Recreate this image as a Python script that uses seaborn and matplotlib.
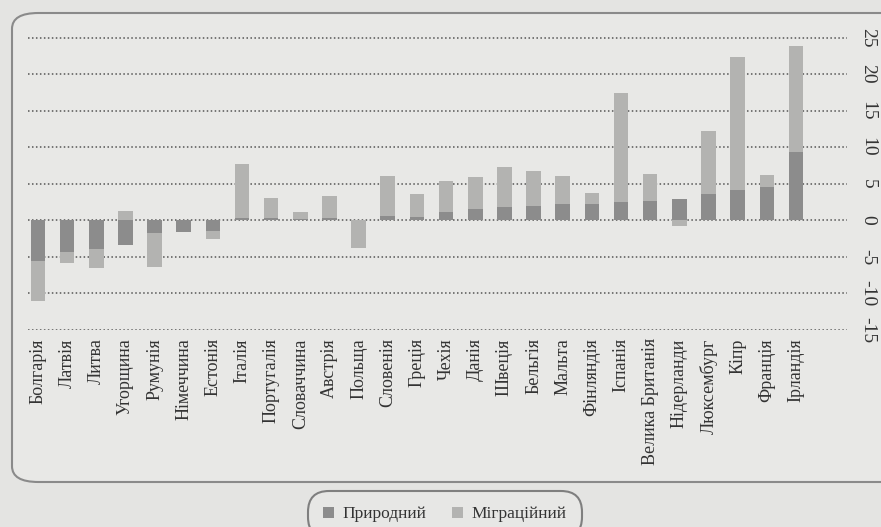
import numpy as np
import pandas as pd
import matplotlib
matplotlib.use("Agg")
import matplotlib.pyplot as plt
from matplotlib.patches import FancyBboxPatch, Patch
import seaborn as sns

# Natural and migration population change by country
countries = ["Болгарія", "Латвія", "Литва", "Угорщина", "Румунія", "Німеччина",
             "Естонія", "Італія", "Португалія", "Словаччина", "Австрія", "Польща",
             "Словенія", "Греція", "Чехія", "Данія", "Швеція", "Бельгія", "Мальта",
             "Фінляндія", "Іспанія", "Велика Британія", "Нідерланди", "Люксембург",
             "Кіпр", "Франція", "Ірландія"]
natural = [-5.5, -4.3, -3.9, -3.4, -1.7, -1.6, -1.4, 0.3, 0.3, 0.2, 0.3, 0.0,
           0.6, 0.5, 1.2, 1.5, 1.8, 2.0, 2.3, 2.3, 2.5, 2.7, 2.9, 3.6, 4.2, 4.5, 9.3]
migration = [-5.5, -1.5, -2.6, 1.3, -4.7, 0.0, -1.2, 7.4, 2.8, 1.0, 3.0, -3.8,
             5.5, 3.1, 4.2, 4.4, 5.5, 4.8, 3.8, 1.4, 14.9, 3.7, -0.8, 8.6, 18.2, 1.7, 14.6]
y_ticks = [-15, -10, -5, 0, 5, 10, 15, 20, 25]
legend_labels = ["Природний", "Міграційний"]

BG = "#e4e4e2"
DARK = "#8c8c8c"
LIGHT = "#b3b3b1"
TEXT = "#333333"

sns.set_style("white")
plt.rcParams["font.family"] = ["Liberation Serif", "DejaVu Serif"]
plt.rcParams["axes.unicode_minus"] = False

df = pd.DataFrame({"country": countries, "natural": natural, "migration": migration})
# migration is stacked on natural when both have the same sign, otherwise it starts at 0
nat = df["natural"].to_numpy()
mig = df["migration"].to_numpy()
df["light_top"] = np.where(np.sign(nat) == np.sign(mig), nat + mig, mig)

fig = plt.figure(figsize=(8.81, 5.27), dpi=100, facecolor=BG)
ax = fig.add_axes([28 / 881, 1 - 330 / 527, (847 - 28) / 881, (330 - 23) / 527])
ax.set_facecolor("none")

# rounded frame round the chart area (runs off the right edge, as in the scan)
frame = FancyBboxPatch((12 / 881, 1 - 482 / 527), 1.05, (482 - 13) / 527,
                       boxstyle="round,pad=0,rounding_size=0.03",
                       transform=fig.transFigure, facecolor="#e8e8e6",
                       edgecolor="#8a8a8a", linewidth=1.5, zorder=-5)
fig.patches.append(frame)

sns.barplot(data=df, x="country", y="light_top", color=LIGHT, width=0.5,
            saturation=1, linewidth=0, ax=ax, zorder=2)
sns.barplot(data=df, x="country", y="natural", color=DARK, width=0.5,
            saturation=1, linewidth=0, ax=ax, zorder=3)

ax.set_xlim(-0.34, 27.75)
ax.set_ylim(-15, 27)
ax.set_yticks(y_ticks)
ax.set_xlabel("")
ax.set_ylabel("")
ax.yaxis.tick_right()
ax.yaxis.grid(True, linestyle=(0, (1, 1.6)), color="#555555", linewidth=1.1)
ax.xaxis.grid(False)
ax.set_axisbelow(True)
for s in ax.spines.values():
    s.set_visible(False)

ax.tick_params(axis="x", length=0, pad=6, labelsize=13, labelcolor=TEXT)
ax.tick_params(axis="y", length=0, pad=9, labelsize=14, labelcolor=TEXT)
for lab in ax.get_xticklabels():
    lab.set_rotation(90)
for lab in ax.get_yticklabels():
    lab.set_rotation(-90)
    lab.set_va("center")
    lab.set_ha("left")

handles = [Patch(facecolor=DARK, edgecolor="none"), Patch(facecolor=LIGHT, edgecolor="none")]
leg = fig.legend(handles, legend_labels, loc="center", bbox_to_anchor=(0.505, 0.024),
                 ncol=2, frameon=True, fancybox=True, fontsize=12.5,
                 handlelength=0.6, handleheight=0.6, handletextpad=0.5,
                 columnspacing=1.5, borderpad=0.9, labelcolor=TEXT)
leg.get_frame().set_facecolor("#e8e8e6")
leg.get_frame().set_edgecolor("#666666")
leg.get_frame().set_linewidth(1.5)
leg.get_frame().set_boxstyle("round", pad=0, rounding_size=1.2)

fig.savefig("out.png", dpi=100, facecolor=BG)
